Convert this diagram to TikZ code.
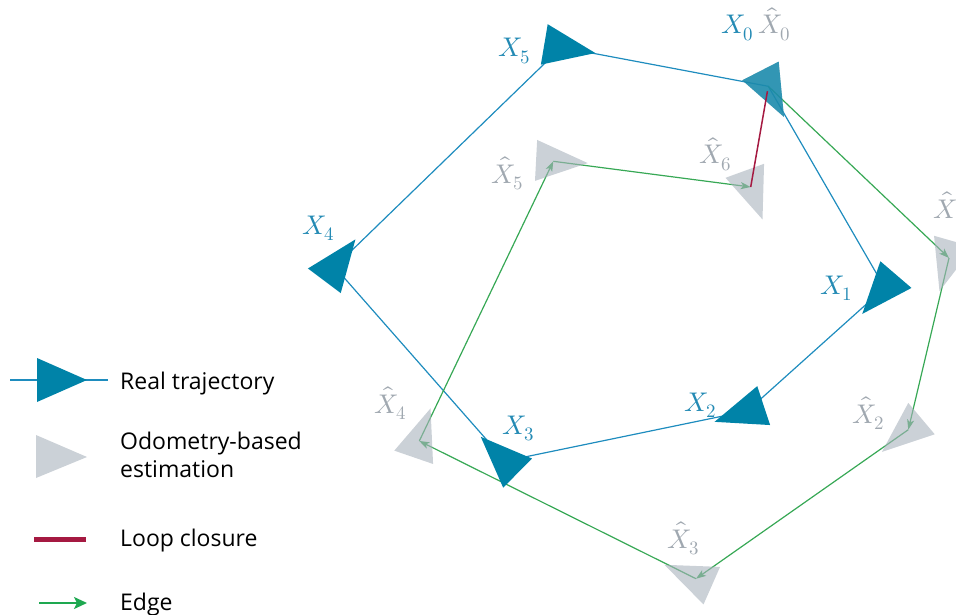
\documentclass[tikz,border=0pt]{standalone}
\usepackage{fontspec}
\usepackage{unicode-math}
\setmathfont{Latin Modern Math}
\newfontfamily\legendfont{Open Sans}
\usetikzlibrary{arrows.meta}
\definecolor{realblue}{RGB}{0,131,168}
\definecolor{realline}{RGB}{30,140,190}
\definecolor{reallabel}{RGB}{35,138,180}
\definecolor{estgray}{RGB}{168,178,188}
\definecolor{estlabel}{RGB}{160,168,176}
\definecolor{edgegreen}{RGB}{55,168,85}
\definecolor{legendgreen}{RGB}{30,168,80}
\definecolor{loopred}{RGB}{165,25,65}
\tikzset{
  pics/realpose/.style={code={\fill[realblue] (34.5,0) -- (-17.25,20.5) -- (-17.25,-20.5) -- cycle;}},
  pics/estpose/.style={code={\fill[estgray,fill opacity=0.6] (34.5,0) -- (-17.25,20.5) -- (-17.25,-20.5) -- cycle;}},
  realedge/.style={realline,line width=1.2pt},
  odoedge/.style={edgegreen,line width=1.2pt,-{Stealth[length=10pt,width=7pt,inset=2.5pt]}},
  looped/.style={loopred,line width=1.5pt},
  rlabel/.style={anchor=base west,inner sep=0pt,text=reallabel,font=\fontsize{27}{32}\selectfont},
  elabel/.style={anchor=base west,inner sep=0pt,text=estlabel,font=\fontsize{27}{32}\selectfont},
  legtext/.style={anchor=base west,inner sep=0pt,text=black,font=\legendfont\fontsize{23}{28}\selectfont},
}
\begin{document}
\begin{tikzpicture}[x=1pt,y=-1pt]
\useasboundingbox (0,0) rectangle (956,615);
\clip (0,0) rectangle (956,615);
% real poses (centroids)
\coordinate (X0) at (768.3,86.3);
\coordinate (X1) at (884.7,287.7);
\coordinate (X2) at (747.3,411);
\coordinate (X3) at (505.3,461);
\coordinate (X4) at (334.7,267);
\coordinate (X5) at (561.3,47.3);
% estimated poses
\coordinate (E0) at (768.3,86.3);
\coordinate (E1) at (949,258);
\coordinate (E2) at (908.3,429.7);
\coordinate (E3) at (696,578.7);
\coordinate (E4) at (419.3,441);
\coordinate (E5) at (553.3,161.3);
\coordinate (E6) at (750.7,187);
% real trajectory
\draw[realedge] (X0) -- (X1) -- (X2) -- (X3) -- (X4) -- (X5) -- cycle;
% odometry edges
\draw[odoedge] (E0) -- (E1);
\draw[odoedge] (E1) -- (E2);
\draw[odoedge] (E2) -- (E3);
\draw[odoedge] (E3) -- (E4);
\draw[odoedge] (E4) -- (E5);
\draw[odoedge] (E5) -- (E6);
% estimated triangles
\pic[rotate=-62.9] at (E0) {estpose};
\pic[rotate=-106] at (E1) {estpose};
\pic[rotate=-139.9] at (E2) {estpose};
\pic[rotate=-203.8] at (E3) {estpose};
\pic[rotate=71] at (E4) {estpose};
\pic[rotate=-3] at (E5) {estpose};
\pic[rotate=-70] at (E6) {estpose};
% real triangles
\pic[rotate=-62.9,fill opacity=0.75] at (X0) {realpose};
\pic[rotate=-130.6] at (X1) {realpose};
\pic[rotate=-161.7] at (X2) {realpose};
\pic[rotate=-224.6] at (X3) {realpose};
\pic[rotate=53.1] at (X4) {realpose};
\pic[rotate=-9.6] at (X5) {realpose};
% loop closure
\draw[looped,shorten >=5pt] (E6) -- (X0);
% labels
\node[rlabel] (lX0) at (721,34) {$X_0$};
\node[elabel] (lE0) at (758,34) {$\hat{X}_0$};
\node[rlabel] (lX1) at (820,294) {$X_1$};
\node[elabel] (lE1) at (933,218) {$\hat{X}_1$};
\node[rlabel] (lX2) at (684,411) {$X_2$};
\node[elabel] (lE2) at (852,423) {$\hat{X}_2$};
\node[elabel] (lE3) at (667,548) {$\hat{X}_3$};
\node[rlabel] (lX3) at (502,434) {$X_3$};
\node[elabel] (lE4) at (374,413) {$\hat{X}_4$};
\node[rlabel] (lX4) at (302,234) {$X_4$};
\node[rlabel] (lX5) at (498,57) {$X_5$};
\node[elabel] (lE5) at (491,183) {$\hat{X}_5$};
\node[elabel] (lE6) at (699,164) {$\hat{X}_6$};
% legend
\coordinate (L1a) at (10,380);
\coordinate (L1b) at (108,380);
\draw[realline,line width=1.2pt] (L1a) -- (L1b);
\fill[realblue] (37,358) -- (87,380) -- (37,402) -- cycle;
\node[legtext] (t1) at (120,389) {Real trajectory};
\fill[estgray,fill opacity=0.6] (36,435) -- (87,457) -- (36,478) -- cycle;
\node[legtext] (t2) at (120,449) {Odometry-based};
\node[legtext] (t2b) at (120,477) {estimation};
\coordinate (L3a) at (34,539);
\coordinate (L3b) at (86,539);
\draw[loopred,line width=5pt] (L3a) -- (L3b);
\node[legtext] (t3) at (120,546) {Loop closure};
\coordinate (L4a) at (39,603);
\coordinate (L4b) at (87,603);
\draw[legendgreen,line width=2pt,-{Stealth[length=13pt,width=12pt,inset=3pt]}] (L4a) -- (L4b);
\node[legtext] (t4) at (120,610) {Edge};
\end{tikzpicture}
\end{document}
